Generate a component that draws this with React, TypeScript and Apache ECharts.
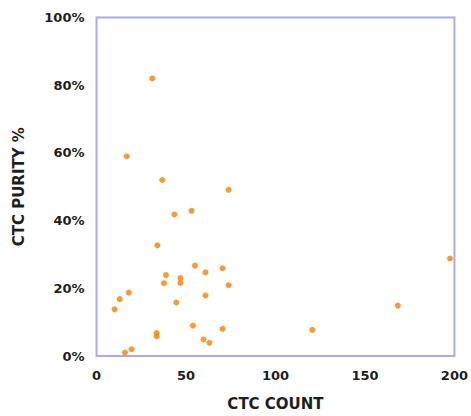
import React, { useEffect, useRef } from "react";
import * as echarts from "echarts";

const ctcCount = [31.2, 16.9, 36.7, 73.8, 43.5, 53.1, 34.0, 55.0, 60.9, 70.4, 73.8, 38.8, 37.7, 46.9, 46.9, 60.9, 44.6, 18.1, 13.0, 10.1, 53.9, 33.6, 33.6, 70.4, 59.8, 63.1, 15.9, 19.6, 120.6, 168.4, 197.5];
const ctcPurity = [82.0, 59.0, 52.0, 49.1, 41.8, 42.9, 32.7, 26.7, 24.7, 25.9, 20.9, 23.9, 21.5, 23.0, 21.6, 17.9, 15.8, 18.7, 16.8, 13.8, 9.0, 6.8, 5.8, 8.0, 4.9, 3.9, 1.0, 2.0, 7.7, 14.9, 28.8];
const xTicks = [0, 50, 100, 150, 200];
const yTicks = [0, 20, 40, 60, 80, 100];

export default function App() {
  const ref = useRef<HTMLDivElement>(null);
  useEffect(() => {
    document.body.style.margin = "0";
    const chart = echarts.init(ref.current!, null, { renderer: "svg" });
    const font = "DejaVu Sans";
    chart.setOption({
      animation: false,
      backgroundColor: "#ffffff",
      grid: {
        left: 96.5,
        right: 12.5,
        top: 17.5,
        bottom: 56,
        show: true,
        borderColor: "#a9a9f5",
        borderWidth: 2,
        backgroundColor: "transparent",
      },
      xAxis: {
        type: "value",
        min: xTicks[0],
        max: xTicks[xTicks.length - 1],
        interval: 50,
        name: "CTC COUNT",
        nameLocation: "middle",
        nameGap: 40,
        nameTextStyle: { fontFamily: font, fontWeight: "bold", fontSize: 15, color: "#1e1e1e" },
        axisLine: { show: false },
        axisTick: { show: false },
        splitLine: { show: false },
        axisLabel: { margin: 13, fontFamily: font, fontWeight: "bold", fontSize: 13, color: "#1e1e1e" },
      },
      yAxis: {
        type: "value",
        min: yTicks[0],
        max: yTicks[yTicks.length - 1],
        interval: 20,
        name: "CTC PURITY %",
        nameLocation: "middle",
        nameGap: 70,
        nameRotate: 90,
        nameTextStyle: { fontFamily: font, fontWeight: "bold", fontSize: 15, color: "#1e1e1e" },
        axisLine: { show: false },
        axisTick: { show: false },
        splitLine: { show: false },
        axisLabel: { margin: 12, fontFamily: font, fontWeight: "bold", fontSize: 13, color: "#1e1e1e", formatter: "{value}%" },
      },
      series: [
        {
          type: "scatter",
          symbol: "circle",
          symbolSize: 6,
          itemStyle: { color: "#ff8000" },
          data: ctcCount.map((x, i) => [x, ctcPurity[i]]),
        },
      ],
    });
    return () => chart.dispose();
  }, []);
  return <div ref={ref} style={{ width: 471, height: 416 }} />;
}
